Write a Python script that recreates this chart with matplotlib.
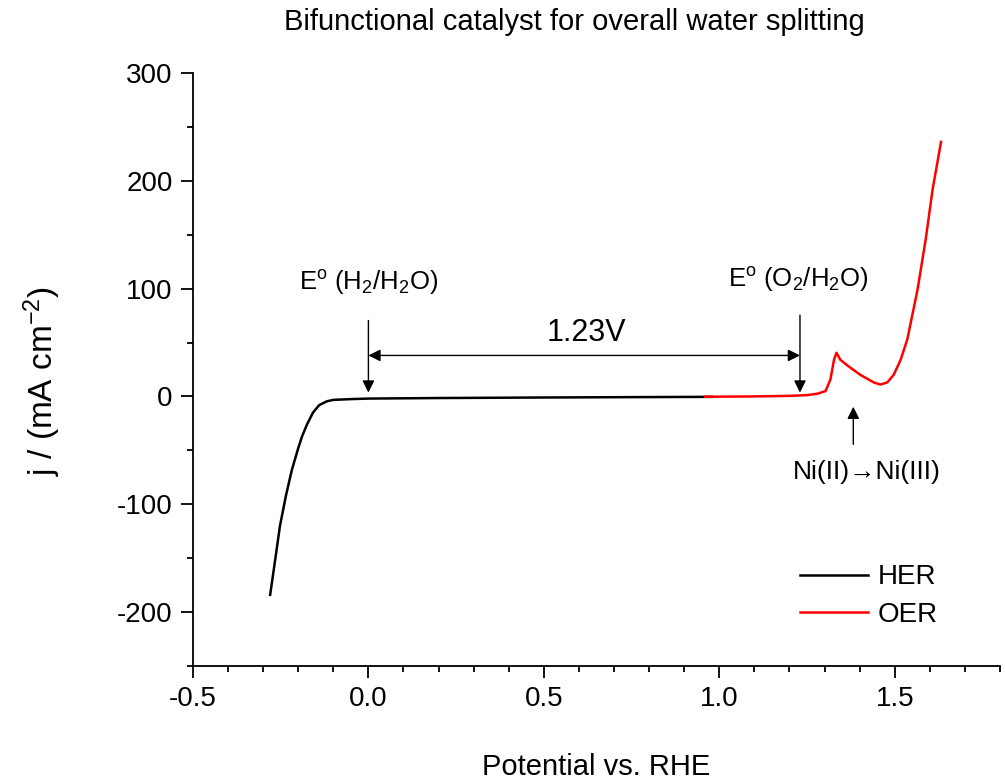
import numpy as np
import matplotlib
matplotlib.use("Agg")
import matplotlib.pyplot as plt
from matplotlib.ticker import MultipleLocator

plt.rcParams['font.family'] = ['Liberation Sans', 'DejaVu Sans']
plt.rcParams['mathtext.fontset'] = 'custom'
plt.rcParams['mathtext.rm'] = 'Liberation Sans'
plt.rcParams['mathtext.it'] = 'Liberation Sans'
plt.rcParams['axes.unicode_minus'] = False

# ── data ──────────────────────────────────────────────────────
her_E = [-0.28, -0.265, -0.252, -0.235, -0.218, -0.2, -0.189, -0.175,
         -0.158, -0.14, -0.118, -0.1, -0.05, 0.0, 0.2, 0.5, 0.8, 0.98]
her_j = [-184, -150, -120, -92, -68, -48, -37, -26,
         -15, -8, -4.5, -3.2, -2.5, -2.0, -1.5, -1.0, -0.6, -0.4]

oer_E = [0.96, 1.1, 1.2, 1.25, 1.28, 1.303, 1.317, 1.327, 1.334, 1.345,
         1.368, 1.402, 1.44, 1.459, 1.479, 1.497, 1.517, 1.536, 1.565,
         1.588, 1.608, 1.632]
oer_j = [-0.3, 0.0, 0.5, 1.2, 2.5, 5, 16, 34, 40.5, 34,
         28, 20, 13, 11, 13, 20, 34, 53, 99,
         145, 192, 236]

E_H2 = 0.0
E_O2 = 1.23
E_Ni = 1.382

# ── figure ────────────────────────────────────────────────────
fig = plt.figure(figsize=(10.05, 7.84), dpi=100)
ax = fig.add_axes([0.192, 0.1505, 0.803, 0.7565])

ax.plot(her_E, her_j, color='black', lw=1.8, label='HER')
ax.plot(oer_E, oer_j, color='#ff0000', lw=1.8, label='OER')

ax.set_xlim(-0.5, 1.8)
ax.set_ylim(-250, 300)
ax.xaxis.set_minor_locator(MultipleLocator(0.1))
ax.yaxis.set_major_locator(MultipleLocator(100))
ax.yaxis.set_minor_locator(MultipleLocator(50))
ax.set_xticks([-0.5, 0.0, 0.5, 1.0, 1.5])
ax.set_xticklabels(['-0.5', '0.0', '0.5', '1.0', '1.5'])

for s in ['top', 'right']:
    ax.spines[s].set_visible(False)
for s in ['left', 'bottom']:
    ax.spines[s].set_linewidth(1.3)
ax.tick_params(which='major', direction='out', length=8.5, width=1.3,
               labelsize=20, pad=6)
ax.tick_params(which='minor', direction='out', length=4, width=1.3)

ax.set_xlabel('Potential vs. RHE', fontsize=21)
ax.xaxis.label.set_va('center')
ax.xaxis.set_label_coords(0.5, -0.170)
ax.set_ylabel(r'j / (mA cm$^{-2}$)', fontsize=24)
ax.yaxis.label.set_va('center')
ax.yaxis.set_label_coords(-0.187, 0.48)
fig.text(0.572, 0.972, 'Bifunctional catalyst for overall water splitting',
         ha='center', va='center', fontsize=21)

# annotations
arr = dict(arrowstyle='-|>', color='black', lw=1.0, mutation_scale=18)
ax.annotate('', xy=(E_H2, 1), xytext=(E_H2, 73), arrowprops=arr)
ax.annotate('', xy=(E_O2, 1), xytext=(E_O2, 78), arrowprops=arr)
ax.annotate('', xy=(E_H2, 38), xytext=(E_O2, 38),
            arrowprops=dict(arrowstyle='<|-|>', color='black', lw=1.0,
                            mutation_scale=18, shrinkA=0, shrinkB=0))
ax.annotate('', xy=(E_Ni, -7), xytext=(E_Ni, -47), arrowprops=arr)

ax.text(E_H2, 106, r'E$^{\mathrm{o}}$ (H$_2$/H$_2$O)', ha='center',
        va='center', fontsize=18.5)
ax.text(1.226, 108, r'E$^{\mathrm{o}}$ (O$_2$/H$_2$O)', ha='center',
        va='center', fontsize=18.5)
ax.text(0.62, 59, '1.23V', ha='center', va='center', fontsize=22)
ax.text(1.42, -70, 'Ni(II)→Ni(III)', ha='center',
        va='center', fontsize=19)

ax.legend(loc='center left', bbox_to_anchor=(0.752, 0.118), frameon=False,
          fontsize=20, handlelength=2.45, handletextpad=0.35,
          labelspacing=0.4, borderpad=0, borderaxespad=0)

fig.savefig('out.png', dpi=100, facecolor='white')
